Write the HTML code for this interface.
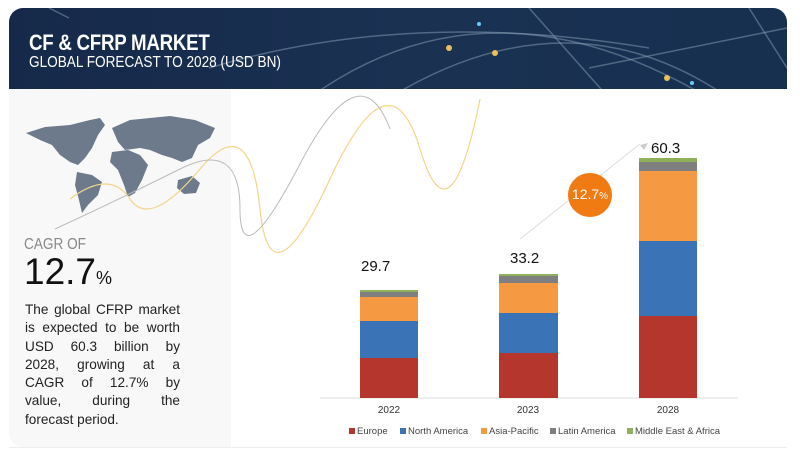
<!DOCTYPE html>
<html><head><meta charset="utf-8"><style>
body{margin:0;width:800px;height:461px;background:#fff;position:relative;overflow:hidden;font-family:"Liberation Sans",sans-serif}
.a{position:absolute}
.hdr{left:9px;top:8px;width:778px;height:81px;background:linear-gradient(90deg,#16294a,#1a3152 50%,#173050);border-radius:14px 14px 0 0;overflow:hidden}
.t1{left:29px;top:30px;color:#fff;font-size:22px;font-weight:bold;transform:scaleX(.85);transform-origin:left;letter-spacing:-0.3px}
.t2{left:29px;top:54px;color:#fff;font-size:16px;transform:scaleX(.85);transform-origin:left}
.panel{left:9px;top:89px;width:222px;height:358px;background:#f8f8f8;border-radius:0 0 0 14px}
.bot{left:9px;top:447px;width:778px;height:1px;background:#eee}
.p div{height:18.3px;text-align:justify;text-align-last:justify;font-size:13.6px;color:#222;width:155px;white-space:nowrap}
.yr{font-size:10px;color:#333;width:60px;text-align:center}
.lg{top:426px;font-size:9.5px;color:#444}
.lg i{display:inline-block;width:6px;height:6px;margin-right:2px}
.v{font-size:15px;color:#111}
</style></head><body>
<div class="a hdr">
<svg width="778" height="81" style="position:absolute;left:0;top:0">
<g fill="none" stroke="#8aa0b8" stroke-opacity=".5" stroke-width="1.5">
<path d="M300 90 Q480 -40 700 90"/><path d="M380 90 Q560 -20 720 90"/><path d="M200 60 Q400 0 640 40"/>
<path d="M520 0 L600 90"/><path d="M740 0 L778 60"/><path d="M580 60 L778 20"/><path d="M40 0 L60 10"/>
</g>
<circle cx="486" cy="45" r="3" fill="#e8c060"/><circle cx="440" cy="40" r="3" fill="#e8c060"/><circle cx="658" cy="70" r="3" fill="#e8c060"/><circle cx="470" cy="16" r="2" fill="#6cf"/><circle cx="683" cy="75" r="2" fill="#6cf"/>
</svg></div>
<div class="a t1">CF &amp; CFRP MARKET</div>
<div class="a t2">GLOBAL FORECAST TO 2028 (USD BN)</div>
<div class="a panel"></div>
<div class="a bot"></div>
<svg class="a" style="left:0;top:0" width="800" height="461">
<g fill="#6d7a8c">
<path d="M26 133 L45 127 L70 125 L90 120 L100 118 L105 125 L98 135 L92 148 L85 158 L78 165 L70 162 L60 155 L52 145 L40 140 Z"/>
<path d="M77 172 L92 175 L102 182 L98 195 L88 205 L82 213 L79 200 L75 185 Z"/>
<path d="M112 128 L130 120 L150 118 L170 116 L195 120 L215 128 L210 138 L198 145 L192 158 L182 162 L172 158 L162 155 L150 150 L140 148 L125 150 L118 142 Z"/>
<path d="M112 152 L128 150 L140 155 L148 165 L142 180 L135 193 L128 197 L124 185 L118 170 L110 162 Z"/>
<path d="M178 180 L192 176 L200 183 L196 193 L184 194 L177 188 Z"/>
</g>
<g transform="translate(0,89)">
<path d="M70 110 Q110 80 130 110 T200 80 T260 120 T330 90 T420 60 T480 10" fill="none" stroke="#f3d58a" stroke-width="1.2"/>
<path d="M55 140 Q120 110 180 80 T240 120 T300 75 T390 40" fill="none" stroke="#bbb" stroke-width="1"/>
<line x1="520" y1="150" x2="640" y2="55" stroke="#ddd" stroke-width="1"/>
</g>
<line x1="320" y1="398" x2="738" y2="398" stroke="#ddd"/>
<rect x="360" y="358" width="58" height="40" fill="#b5362c"/><rect x="360" y="321" width="58" height="37" fill="#3a74b7"/><rect x="360" y="297" width="58" height="24" fill="#f59a43"/><rect x="360" y="292" width="58" height="5" fill="#7f7f7f"/><rect x="360" y="290" width="58" height="2" fill="#8fb05a"/>
<rect x="499" y="353" width="59" height="45" fill="#b5362c"/><rect x="499" y="313" width="59" height="40" fill="#3a74b7"/><rect x="499" y="283" width="59" height="30" fill="#f59a43"/><rect x="499" y="276" width="59" height="7" fill="#7f7f7f"/><rect x="499" y="274" width="59" height="2" fill="#8fb05a"/>
<rect x="639" y="316" width="58" height="82" fill="#b5362c"/><rect x="639" y="241" width="58" height="75" fill="#3a74b7"/><rect x="639" y="171" width="58" height="70" fill="#f59a43"/><rect x="639" y="162" width="58" height="9" fill="#7f7f7f"/><rect x="639" y="158" width="58" height="4" fill="#8fb05a"/>
<circle cx="590" cy="195" r="22" fill="#f07b12"/>
<polygon points="640,145 648,143 644,150" fill="#ccc"/>
</svg>
<div class="a" style="left:24px;top:236px;font-size:16px;color:#888;transform:scaleX(.85);transform-origin:left">CAGR OF</div>
<div class="a" style="left:24px;top:251px;font-size:37px;color:#111">12.7<span style="font-size:18px">%</span></div>
<div class="a p" style="left:25px;top:302px">
<div>The global CFRP market</div><div>is expected to be worth</div><div>USD 60.3 billion by</div><div>2028, growing at a</div><div>CAGR of 12.7% by</div><div>value, during the</div><div style="text-align-last:left">forecast period.</div></div>
<div class="a" style="left:568px;top:186px;color:#fff;font-size:14px;width:44px;text-align:center">12.7<span style="font-size:10px">%</span></div>
<div class="a v" style="left:361px;top:258px">29.7</div>
<div class="a v" style="left:510px;top:250px">33.2</div>
<div class="a v" style="left:651px;top:140px">60.3</div>
<div class="a yr" style="left:359px;top:405px">2022</div>
<div class="a yr" style="left:498px;top:405px">2023</div>
<div class="a yr" style="left:638px;top:405px">2028</div>
<div class="a lg" style="left:349px"><i style="background:#b5362c"></i>Europe</div>
<div class="a lg" style="left:400px"><i style="background:#3a74b7"></i>North America</div>
<div class="a lg" style="left:481px"><i style="background:#f59a43"></i>Asia-Pacific</div>
<div class="a lg" style="left:550px"><i style="background:#7f7f7f"></i>Latin America</div>
<div class="a lg" style="left:627px"><i style="background:#8fb05a"></i>Middle East &amp; Africa</div>
</body></html>
